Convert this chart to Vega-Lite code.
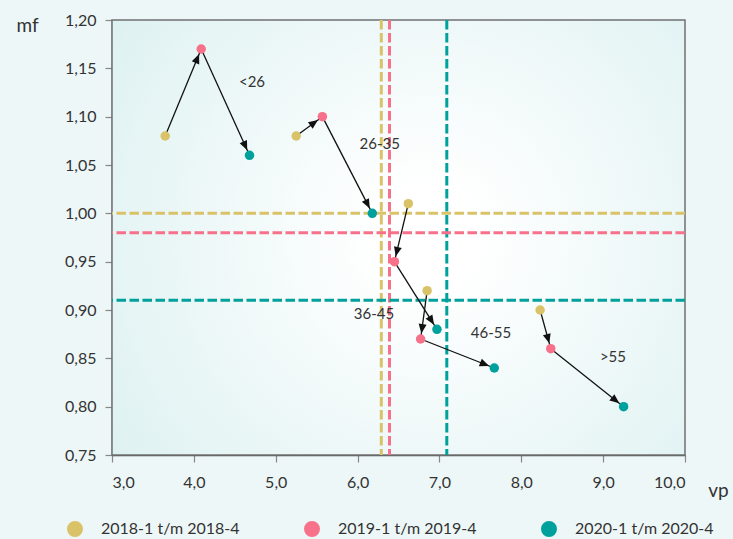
{
  "$schema": "https://vega.github.io/schema/vega-lite/v6.json",
  "width": 573,
  "height": 435,
  "autosize": {"type": "none"},
  "padding": {"left": 112, "top": 20, "right": 48, "bottom": 84},
  "background": "#eef7f8",
  "datasets": {
    "pts": [
      {"group": "<26", "series": "2018-1 t/m 2018-4", "x": 3.65, "y": 1.08},
      {"group": "<26", "series": "2019-1 t/m 2019-4", "x": 4.09, "y": 1.17},
      {"group": "<26", "series": "2020-1 t/m 2020-4", "x": 4.68, "y": 1.06},
      {"group": "26-35", "series": "2018-1 t/m 2018-4", "x": 5.25, "y": 1.08},
      {"group": "26-35", "series": "2019-1 t/m 2019-4", "x": 5.57, "y": 1.1},
      {"group": "26-35", "series": "2020-1 t/m 2020-4", "x": 6.18, "y": 1.0},
      {"group": "36-45", "series": "2018-1 t/m 2018-4", "x": 6.62, "y": 1.01},
      {"group": "36-45", "series": "2019-1 t/m 2019-4", "x": 6.45, "y": 0.95},
      {"group": "36-45", "series": "2020-1 t/m 2020-4", "x": 6.97, "y": 0.88},
      {"group": "46-55", "series": "2018-1 t/m 2018-4", "x": 6.85, "y": 0.92},
      {"group": "46-55", "series": "2019-1 t/m 2019-4", "x": 6.77, "y": 0.87},
      {"group": "46-55", "series": "2020-1 t/m 2020-4", "x": 7.67, "y": 0.84},
      {"group": ">55", "series": "2018-1 t/m 2018-4", "x": 8.23, "y": 0.9},
      {"group": ">55", "series": "2019-1 t/m 2019-4", "x": 8.36, "y": 0.86},
      {"group": ">55", "series": "2020-1 t/m 2020-4", "x": 9.25, "y": 0.8}
    ],
    "refx": [
      {"series": "2018-1 t/m 2018-4", "v": 6.29},
      {"series": "2019-1 t/m 2019-4", "v": 6.39},
      {"series": "2020-1 t/m 2020-4", "v": 7.09}
    ],
    "refy": [
      {"series": "2018-1 t/m 2018-4", "v": 1.0},
      {"series": "2019-1 t/m 2019-4", "v": 0.98},
      {"series": "2020-1 t/m 2020-4", "v": 0.91}
    ],
    "labels": [
      {"label": "<26", "x": 4.71, "y": 1.136},
      {"label": "26-35", "x": 6.27, "y": 1.072},
      {"label": "36-45", "x": 6.2, "y": 0.896},
      {"label": "46-55", "x": 7.63, "y": 0.876},
      {"label": ">55", "x": 9.12, "y": 0.851}
    ]
  },
  "layer": [
    {
      "data": {"values": [{}]},
      "mark": {
        "type": "rect",
        "stroke": "#707070",
        "strokeWidth": 1.5,
        "fill": {
          "gradient": "radial",
          "x1": 0.55, "y1": 0.5, "r1": 0,
          "x2": 0.55, "y2": 0.5, "r2": 0.72,
          "stops": [
            {"offset": 0, "color": "#ffffff"},
            {"offset": 0.12, "color": "#ffffff"},
            {"offset": 1, "color": "#dbf0f0"}
          ]
        }
      },
      "encoding": {
        "x": {"datum": 3, "type": "quantitative"},
        "x2": {"datum": 10},
        "y": {"datum": 0.75, "type": "quantitative"},
        "y2": {"datum": 1.2}
      }
    },
    {
      "data": {"name": "refx"},
      "mark": {"type": "rule", "strokeWidth": 3, "strokeDash": [9.5, 3.5]},
      "encoding": {
        "x": {"field": "v", "type": "quantitative"},
        "stroke": {
          "condition": [
            {"test": "datum.series === '2018-1 t/m 2018-4'", "value": "#dac269"},
            {"test": "datum.series === '2019-1 t/m 2019-4'", "value": "#f7718a"}
          ],
          "value": "#00a19c"
        }
      }
    },
    {
      "data": {"name": "refy"},
      "mark": {"type": "rule", "strokeWidth": 3, "strokeDash": [9.5, 3.5]},
      "encoding": {
        "y": {"field": "v", "type": "quantitative"},
        "stroke": {
          "condition": [
            {"test": "datum.series === '2018-1 t/m 2018-4'", "value": "#dac269"},
            {"test": "datum.series === '2019-1 t/m 2019-4'", "value": "#f7718a"}
          ],
          "value": "#00a19c"
        }
      }
    },
    {
      "data": {"name": "pts"},
      "transform": [
        {"window": [{"op": "lead", "field": "x", "as": "x2"}, {"op": "lead", "field": "y", "as": "y2"}], "groupby": ["group"], "sort": [{"field": "series"}], "frame": [null, null]},
        {"filter": "datum.x2 != null"},
        {"calculate": "atan2((datum.x2 - datum.x) * 573 / 7, (datum.y2 - datum.y) * 435 / 0.45) * 180 / PI", "as": "ang"}
      ],
      "layer": [
        {
          "mark": {"type": "rule", "color": "#111111", "strokeWidth": 1.3},
          "encoding": {
            "x": {"field": "x", "type": "quantitative"},
            "y": {"field": "y", "type": "quantitative"},
            "x2": {"field": "x2"},
            "y2": {"field": "y2"}
          }
        },
        {
          "mark": {"type": "point", "shape": "M0,0.55L-0.4,1.5L0.4,1.5Z", "filled": true, "color": "#111111", "opacity": 1, "size": 400},
          "encoding": {
            "x": {"field": "x2", "type": "quantitative"},
            "y": {"field": "y2", "type": "quantitative"},
            "angle": {"field": "ang", "type": "quantitative", "scale": null}
          }
        }
      ]
    },
    {
      "data": {"name": "pts"},
      "mark": {"type": "circle", "size": 90, "opacity": 1},
      "encoding": {
        "x": {"field": "x", "type": "quantitative"},
        "y": {"field": "y", "type": "quantitative"},
        "color": {
          "field": "series", "type": "nominal",
          "scale": {"domain": ["2018-1 t/m 2018-4", "2019-1 t/m 2019-4", "2020-1 t/m 2020-4"], "range": ["#dac269", "#f7718a", "#00a19c"]},
          "legend": {
            "orient": "none", "direction": "horizontal", "title": null,
            "legendX": -45, "legendY": 501, "padding": 0,
            "symbolType": "circle", "symbolSize": 254, "symbolStrokeWidth": 0,
            "labelFontSize": 16, "labelColor": "#333333", "labelFont": "Lato",
            "labelOffset": 18, "columnPadding": 64
          }
        }
      }
    },
    {
      "data": {"name": "labels"},
      "mark": {"type": "text", "font": "Lato", "fontSize": 15, "color": "#333333"},
      "encoding": {
        "x": {"field": "x", "type": "quantitative"},
        "y": {"field": "y", "type": "quantitative"},
        "text": {"field": "label"}
      }
    }
  ],
  "encoding": {
    "x": {
      "type": "quantitative",
      "scale": {"domain": [3, 10], "nice": false, "zero": false},
      "axis": {
        "title": "vp", "values": [3, 4, 5, 6, 7, 8, 9, 10],
        "labelExpr": "replace(format(datum.value, '.1f'), '.', ',')",
        "titleAngle": 0, "titleX": 606, "titleY": 35, "titleAlign": "center", "titleBaseline": "middle",
        "labelPadding": 12
      }
    },
    "y": {
      "type": "quantitative",
      "scale": {"domain": [0.75, 1.2], "nice": false, "zero": false},
      "axis": {
        "title": "mf", "values": [0.75, 0.8, 0.85, 0.9, 0.95, 1.0, 1.05, 1.1, 1.15, 1.2],
        "labelExpr": "replace(format(datum.value, '.2f'), '.', ',')",
        "titleAngle": 0, "titleX": -85, "titleY": 5, "titleAlign": "center", "titleBaseline": "middle",
        "labelPadding": 9
      }
    }
  },
  "config": {
    "view": {"stroke": null},
    "font": "Lato",
    "axis": {
      "grid": false, "zindex": 1,
      "domainColor": "#555555", "domainWidth": 1.5,
      "tickColor": "#888888", "tickSize": 7, "tickWidth": 1.2,
      "labelFont": "Lato", "labelFontSize": 16, "labelColor": "#333333",
      "titleFont": "Lato", "titleFontSize": 19, "titleFontWeight": "normal", "titleColor": "#333333"
    }
  }
}
